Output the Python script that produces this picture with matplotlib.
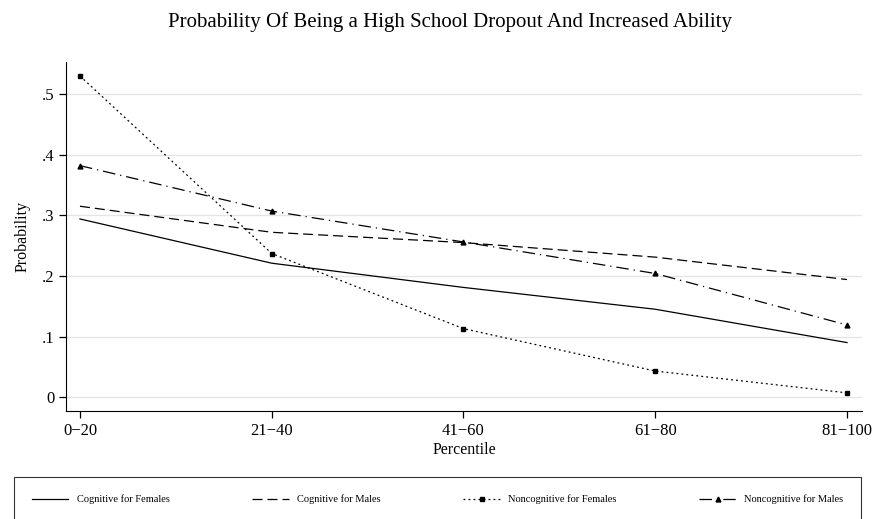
import matplotlib
matplotlib.use("Agg")
import matplotlib.pyplot as plt
import numpy as np

plt.rcParams['font.family'] = ['Liberation Serif', 'DejaVu Serif']

percentiles = ['0\u221220', '21\u221240', '41\u221260', '61\u221280', '81\u2212100']
cog_females = [0.294, 0.221, 0.181, 0.145, 0.090]
cog_males = [0.315, 0.272, 0.255, 0.231, 0.194]
noncog_females = [0.530, 0.237, 0.113, 0.043, 0.007]
noncog_males = [0.382, 0.307, 0.256, 0.204, 0.119]

x = np.arange(len(percentiles))

fig = plt.figure(figsize=(8.76, 5.19), dpi=100)
ax = fig.add_axes([0.0753, 0.208, 0.9087, 0.6725])

ax.plot(x, cog_females, color='black', lw=0.9, label='Cognitive for Females')
ax.plot(x, cog_males, color='black', lw=0.9, dashes=(8, 4), label='Cognitive for Males')
ax.plot(x, noncog_females, color='black', lw=0.9, ls=(0, (1.5, 2.5)), marker='s', ms=3.5,
        label='Noncognitive for Females')
ax.plot(x, noncog_males, color='black', lw=0.9, dashes=(10, 4, 1, 4), marker='^', ms=3.5,
        label='Noncognitive for Males')

ax.set_xlim(-0.073, 4.078)
ax.set_ylim(-0.023, 0.553)
ax.set_xticks(x)
ax.set_xticklabels(percentiles, fontsize=12)
ax.set_yticks([0, 0.1, 0.2, 0.3, 0.4, 0.5])
ax.set_yticklabels(['0', '.1', '.2', '.3', '.4', '.5'], fontsize=12)
ax.yaxis.grid(True, color='#e4e4e4', lw=0.9)
ax.set_axisbelow(True)
ax.spines['top'].set_visible(False)
ax.spines['right'].set_visible(False)
ax.tick_params(direction='out', length=5, width=0.9)
ax.set_xlabel('Percentile', fontsize=11.5, labelpad=2)
ax.set_ylabel('Probability', fontsize=11.5, labelpad=8)

fig.text(0.514, 0.958, 'Probability Of Being a High School Dropout And Increased Ability',
         ha='center', va='center', fontsize=15)

leg = fig.legend(loc='upper left', bbox_to_anchor=(0.016, 0.081, 0.967, 0.0), mode='expand',
                 ncol=4, fontsize=7.5, frameon=True, fancybox=False, edgecolor='black',
                 handlelength=3.5, borderpad=1.7, borderaxespad=0, columnspacing=1.0)
leg.get_frame().set_linewidth(0.8)

fig.savefig('out.png', dpi=100)
